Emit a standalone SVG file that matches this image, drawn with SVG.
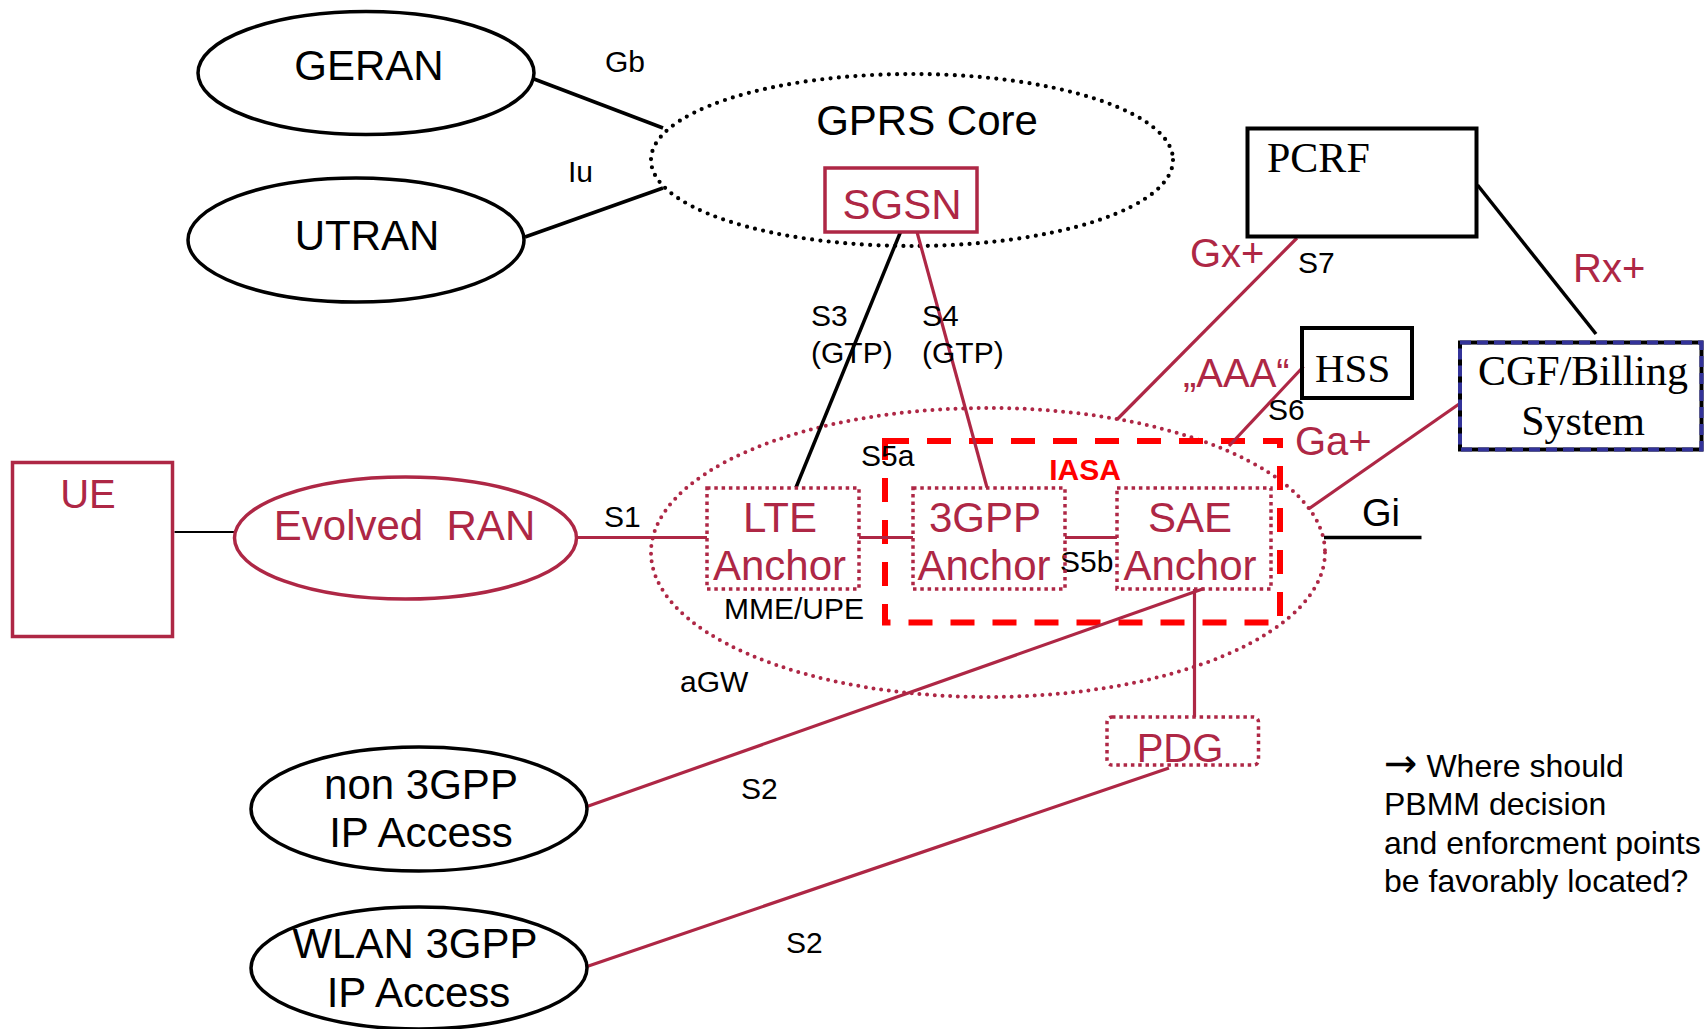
<svg xmlns="http://www.w3.org/2000/svg" width="1704" height="1029" viewBox="0 0 1704 1029">
  <style>
    .t { font-family: "Liberation Sans", Arial, sans-serif; }
    .serif { font-family: "Liberation Serif", "Times New Roman", serif; }
    .big { font-size: 42px; }
    .lbl { font-size: 30px; fill: #000; }
    .ref { font-size: 40px; fill: #AE2745; }
    .crim { fill: #AE2745; }
    .blk { fill: #000; }
    .mid { text-anchor: middle; }
    .oval { fill: none; stroke: #000; stroke-width: 3.5; }
    .box { fill: none; stroke: #000; stroke-width: 4; }
    .cbox { fill: none; stroke: #AE2745; stroke-width: 3.5; }
    .dotbox { fill: none; stroke: #AE2745; stroke-width: 3.5; stroke-dasharray: 3.5 3.8; }
    .wire-k { stroke: #000; stroke-width: 3.5; fill: none; }
    .wire-c { stroke: #AE2745; stroke-width: 3.2; fill: none; }
    .arrow { font-family: "DejaVu Sans", sans-serif; font-size: 40px; }
  </style>

  <!-- container areas -->
  <g id="gprs-core">
    <ellipse cx="912" cy="160" rx="261" ry="86" fill="none" stroke="#000" stroke-width="4.2" stroke-linecap="round" stroke-dasharray="0 8.3"/>
    <text class="t big blk mid" x="927" y="135">GPRS Core</text>
  </g>
  <g id="agw">
    <ellipse cx="988" cy="552.5" rx="337" ry="144.5" fill="none" stroke="#AE2745" stroke-width="4" stroke-linecap="round" stroke-dasharray="0 7.7"/>
    <text class="t lbl" x="680" y="692">aGW</text>
  </g>
  <g id="iasa">
    <rect x="885" y="441" width="395" height="181.5" fill="none" stroke="#FF0000" stroke-width="6" stroke-dasharray="24 18"/>
    <text class="t mid" x="1085" y="480" font-size="30" font-weight="bold" fill="#FF0000">IASA</text>
  </g>

  <!-- connectors -->
  <g id="connectors">
    <line class="wire-k" x1="534" y1="79" x2="663" y2="128"/>
    <line class="wire-k" x1="525" y1="237" x2="663" y2="188"/>
    <line class="wire-k" x1="900.5" y1="232" x2="796" y2="487.5"/>
    <line class="wire-c" x1="917" y1="232" x2="987" y2="487.5"/>
    <line class="wire-k" x1="1477.5" y1="185" x2="1596" y2="334"/>
    <line class="wire-c" x1="1297" y1="238" x2="1117" y2="419.5"/>
    <line class="wire-c" x1="1303.5" y1="366.5" x2="1229" y2="446"/>
    <line class="wire-c" x1="1460.5" y1="403" x2="1308.5" y2="509"/>
    <line stroke="#000" stroke-width="2" x1="174.5" y1="532" x2="235" y2="532"/>
    <line class="wire-c" x1="576.5" y1="537.5" x2="707" y2="537.5" stroke-width="3.5"/>
    <line class="wire-c" x1="859" y1="537.5" x2="913" y2="537.5"/>
    <line class="wire-c" x1="1065" y1="537.5" x2="1117" y2="537.5"/>
    <line class="wire-k" x1="1324" y1="537.5" x2="1421.5" y2="537.5"/>
    <line class="wire-c" x1="1194.5" y1="589" x2="1194.5" y2="717"/>
    <line class="wire-c" x1="587" y1="806.5" x2="1204" y2="588.5"/>
    <line class="wire-c" x1="587" y1="966.5" x2="1169" y2="768"/>

    <!-- interface labels -->
    <text class="t lbl" x="605" y="72">Gb</text>
    <text class="t lbl" x="568" y="182">Iu</text>
    <text class="t lbl" x="811" y="326">S3</text>
    <text class="t lbl" x="811" y="363">(GTP)</text>
    <text class="t lbl" x="922" y="326">S4</text>
    <text class="t lbl" x="922" y="363">(GTP)</text>
    <text class="t ref" x="1190" y="267">Gx+</text>
    <text class="t lbl" x="1298" y="273">S7</text>
    <text class="t ref" x="1573" y="282" font-size="38">Rx+</text>
    <text class="t ref" x="1183" y="387">„AAA“</text>
    <text class="t lbl" x="1268" y="420">S6</text>
    <text class="t ref" x="1295" y="455">Ga+</text>
    <text class="t lbl" x="604" y="527">S1</text>
    <text class="t lbl" x="861" y="466">S5a</text>
    <text class="t lbl" x="1060" y="572">S5b</text>
    <text class="t blk" x="1362" y="526" font-size="38">Gi</text>
    <text class="t lbl" x="741" y="799">S2</text>
    <text class="t lbl" x="786" y="953">S2</text>
  </g>

  <!-- nodes -->
  <g id="geran">
    <ellipse class="oval" cx="366" cy="73" rx="168" ry="61.5"/>
    <text class="t big blk mid" x="369" y="80">GERAN</text>
  </g>
  <g id="utran">
    <ellipse class="oval" cx="356" cy="240" rx="168" ry="62"/>
    <text class="t big blk mid" x="367" y="250">UTRAN</text>
  </g>
  <g id="sgsn">
    <rect class="cbox" x="825" y="168" width="152" height="64"/>
    <text class="t big crim mid" x="902" y="218.5">SGSN</text>
  </g>
  <g id="pcrf">
    <rect class="box" x="1247.5" y="128.5" width="229" height="108"/>
    <text class="serif big blk" x="1267" y="171.5">PCRF</text>
  </g>
  <g id="hss">
    <rect class="box" x="1302" y="328" width="110" height="70"/>
    <text class="serif blk" x="1315" y="381.5" font-size="41">HSS</text>
  </g>
  <g id="cgf-billing">
    <rect class="box" x="1460" y="342.5" width="241.5" height="107"/>
    <rect x="1460" y="342.5" width="241.5" height="107" fill="none" stroke="#333399" stroke-width="4" stroke-dasharray="11 6"/>
    <text class="serif big blk mid" x="1583" y="385">CGF/Billing</text>
    <text class="serif big blk mid" x="1583" y="435">System</text>
  </g>
  <g id="ue">
    <rect class="cbox" x="12.5" y="462.5" width="160" height="174"/>
    <text class="t crim mid" x="88" y="507.5" font-size="40">UE</text>
  </g>
  <g id="evolved-ran">
    <ellipse class="cbox" cx="405.5" cy="538" rx="171" ry="61" stroke-width="4"/>
    <text class="t big crim mid" x="404.5" y="539.5" style="white-space:pre">Evolved  RAN</text>
  </g>
  <g id="lte-anchor">
    <rect class="dotbox" x="707" y="488" width="152" height="101"/>
    <text class="t big crim mid" x="780" y="531.5">LTE</text>
    <text class="t big crim mid" x="779.5" y="580">Anchor</text>
    <text class="t lbl" x="724" y="619">MME/UPE</text>
  </g>
  <g id="gpp-anchor">
    <rect class="dotbox" x="913" y="488" width="152" height="101"/>
    <text class="t big crim mid" x="985" y="531.5">3GPP</text>
    <text class="t big crim mid" x="984" y="580">Anchor</text>
  </g>
  <g id="sae-anchor">
    <rect class="dotbox" x="1117" y="488" width="154" height="101"/>
    <text class="t big crim mid" x="1190" y="531.5">SAE</text>
    <text class="t big crim mid" x="1190" y="580">Anchor</text>
  </g>
  <g id="pdg">
    <rect class="dotbox" x="1107" y="717" width="151.5" height="48" rx="5"/>
    <text class="t crim mid" x="1180" y="761.5" font-size="40">PDG</text>
  </g>
  <g id="non-3gpp-access">
    <ellipse class="oval" cx="419" cy="809" rx="168" ry="62"/>
    <text class="t big blk mid" x="421" y="799">non 3GPP</text>
    <text class="t big blk mid" x="421" y="846.5">IP Access</text>
  </g>
  <g id="wlan-access">
    <ellipse class="oval" cx="419" cy="968" rx="168" ry="61"/>
    <text class="t big blk mid" x="415" y="958">WLAN 3GPP</text>
    <text class="t big blk mid" x="418.5" y="1006.5">IP Access</text>
  </g>

  <!-- side note -->
  <g id="note" class="t blk" font-size="32">
    <text x="1384" y="776.5"><tspan class="arrow">→</tspan> Where should</text>
    <text x="1384" y="815">PBMM decision</text>
    <text x="1384" y="853.5">and enforcment points</text>
    <text x="1384" y="891.5">be favorably located?</text>
  </g>
</svg>
